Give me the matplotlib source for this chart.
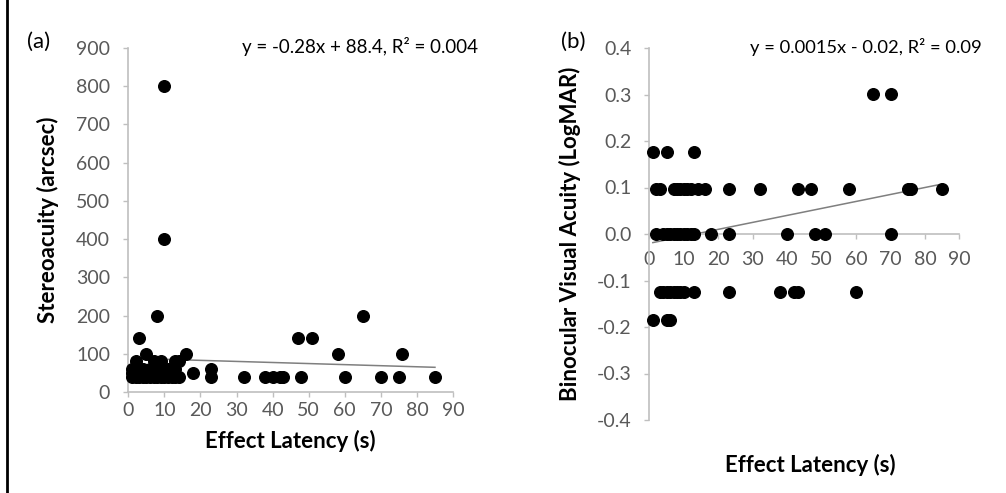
import matplotlib
matplotlib.use("Agg")
import matplotlib.pyplot as plt
import numpy as np
from matplotlib.lines import Line2D

plt.rcParams['font.family'] = ['Lato', 'DejaVu Sans']

# ---------------- Panel (a) data: Effect latency (s) vs Stereoacuity (arcsec)
a_x = [10, 10, 8, 3, 5, 16, 58, 76,
       2, 7, 9, 13, 14,
       1, 2, 3, 4, 5, 6, 7, 8, 9, 10, 11, 12, 13, 14,
       1, 3, 5, 8, 10, 12,
       1, 2, 4, 6, 9, 11, 13,
       18, 23, 23, 32, 38, 40, 42, 43, 47, 48, 51, 60, 65, 70, 75, 85]
a_y = [800, 400, 200, 140, 100, 100, 100, 100,
       80, 80, 80, 80, 80,
       40, 40, 40, 40, 40, 40, 40, 40, 40, 40, 40, 40, 40, 40,
       50, 50, 50, 50, 50, 50,
       60, 60, 60, 60, 60, 60, 60,
       50, 60, 40, 40, 40, 40, 40, 40, 140, 40, 140, 40, 200, 40, 40, 40]
a_fit = (-0.28, 88.4)
a_eq = "y = -0.28x + 88.4, R\u00b2 = 0.004"
a_xticks = [0, 10, 20, 30, 40, 50, 60, 70, 80, 90]
a_yticks = [0, 100, 200, 300, 400, 500, 600, 700, 800, 900]

# ---------------- Panel (b) data: Effect latency (s) vs Binocular VA (LogMAR)
b_x = [1, 5, 13,
       2, 3, 7, 8, 9, 10, 11, 12, 14, 16, 23, 32, 43, 47, 58, 75, 76, 85,
       2, 4, 5, 6, 7, 8, 9, 10, 11, 12, 13, 18, 23, 40, 48, 51, 70,
       3, 4, 5, 6, 7, 8, 9, 10, 13, 23, 38, 42, 43, 60,
       1, 5, 6,
       65, 70]
b_y = [0.176, 0.176, 0.176,
       0.097, 0.097, 0.097, 0.097, 0.097, 0.097, 0.097, 0.097, 0.097, 0.097,
       0.097, 0.097, 0.097, 0.097, 0.097, 0.097, 0.097, 0.097,
       0.0, 0.0, 0.0, 0.0, 0.0, 0.0, 0.0, 0.0, 0.0, 0.0, 0.0, 0.0, 0.0, 0.0,
       0.0, 0.0, 0.0,
       -0.125, -0.125, -0.125, -0.125, -0.125, -0.125, -0.125, -0.125, -0.125,
       -0.125, -0.125, -0.125, -0.125, -0.125,
       -0.185, -0.185, -0.185,
       0.301, 0.301]
b_fit = (0.0015, -0.02)
b_eq = "y = 0.0015x - 0.02, R\u00b2 = 0.09"
b_xticks = [0, 10, 20, 30, 40, 50, 60, 70, 80, 90]
b_yticks = [-0.4, -0.3, -0.2, -0.1, 0.0, 0.1, 0.2, 0.3, 0.4]

W, H = 1006, 493
fig = plt.figure(figsize=(W / 100, H / 100), dpi=100)

spine_col = '#bfbfbf'
tick_col = '#595959'
line_col = '#7f7f7f'
fs_tick = 14
fs_lab = 16


def style(ax, xpad):
    for s in ['top', 'right']:
        ax.spines[s].set_visible(False)
    for s in ['left', 'bottom']:
        ax.spines[s].set_color(spine_col)
        ax.spines[s].set_linewidth(1.2)
    ax.tick_params(axis='both', direction='out', length=3.5, width=1.0,
                   color=spine_col, labelcolor=tick_col, labelsize=fs_tick)
    ax.tick_params(axis='y', pad=9.5)
    ax.tick_params(axis='x', pad=xpad)
    ax.patch.set_alpha(0)


# Panel a
axa = fig.add_axes([128.3 / W, (H - 392) / H, 324.7 / W, 344 / H])
style(axa, 3.5)
axa.scatter(a_x, a_y, s=70, color='black', zorder=3, clip_on=False)
xx = np.array([min(a_x), max(a_x)])
axa.plot(xx, a_fit[0] * xx + a_fit[1], color=line_col, lw=1.1, zorder=2)
axa.set_xlim(0, 90)
axa.set_ylim(0, 900)
axa.set_xticks(a_xticks)
axa.set_yticks(a_yticks)
axa.set_xlabel("Effect Latency (s)", fontsize=fs_lab, fontweight='bold', labelpad=8)
axa.set_ylabel("Stereoacuity (arcsec)", fontsize=fs_lab, fontweight='bold', labelpad=12)

# Panel b
axb = fig.add_axes([649.4 / W, (H - 420) / H, 310 / W, 372 / H])
style(axb, 9)
axb.spines['bottom'].set_position(('data', 0))
axb.scatter(b_x, b_y, s=70, color='black', zorder=3, clip_on=False)
xx = np.array([min(b_x), max(b_x)])
axb.plot(xx, b_fit[0] * xx + b_fit[1], color=line_col, lw=1.1, zorder=2)
axb.set_xlim(0, 90)
axb.set_ylim(-0.4, 0.4)
axb.set_xticks(b_xticks)
axb.set_yticks(b_yticks)
axb.set_yticklabels([f"{v:.1f}" for v in b_yticks])
axb.set_ylabel("Binocular Visual Acuity (LogMAR)", fontsize=fs_lab, fontweight='bold', labelpad=11)
fig.text(810 / W, 1 - 465 / H, "Effect Latency (s)", fontsize=fs_lab, fontweight='bold',
         ha='center', va='center')

# Equations
fig.text(242 / W, 1 - 47 / H, a_eq, fontsize=13.5, ha='left', va='center', color='black')
fig.text(750 / W, 1 - 47 / H, b_eq, fontsize=13.2, ha='left', va='center', color='black')

# Panel letters
fig.text(27 / W, 1 - 42 / H, "(a)", fontsize=16, ha='left', va='center')
fig.text(561 / W, 1 - 42 / H, "(b)", fontsize=16, ha='left', va='center')

# Figure frame
fig.add_artist(Line2D([6.5 / W, 6.5 / W], [0, 1], color='black', lw=2, transform=fig.transFigure))

fig.savefig("out.png", dpi=100)
